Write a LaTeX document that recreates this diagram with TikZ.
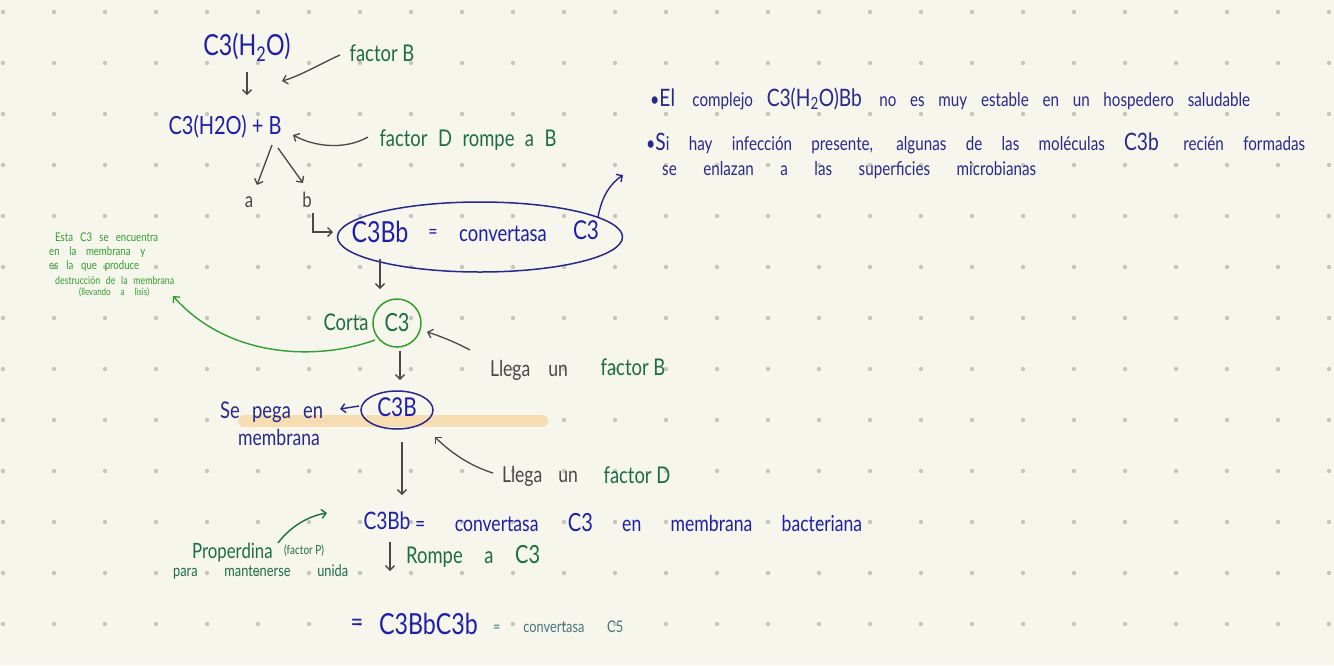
\documentclass[tikz,border=0pt]{standalone}
\usepackage{fontspec}
\setmainfont{Lato}[FakeStretch=0.8]
\usetikzlibrary{arrows.meta,shapes.geometric}
\definecolor{bg}{RGB}{246,246,236}
\definecolor{dotc}{RGB}{198,198,190}
\definecolor{bl}{RGB}{30,30,170}
\definecolor{dbl}{RGB}{40,40,140}
\definecolor{gt}{RGB}{28,108,72}
\definecolor{gc}{RGB}{50,158,45}
\definecolor{gr}{RGB}{72,72,72}
\definecolor{peach}{RGB}{247,222,178}
\definecolor{tealc}{RGB}{70,118,122}
\newcommand\fsz[1]{\fontsize{#1}{#1}\selectfont}
\begin{document}
\begin{tikzpicture}[x=1pt,y=-1pt,
  tipb/.tip={Straight Barb[length=4.5pt,width=9pt]},
  arw/.style={draw=gr,line width=1.3pt,-tipb},
  barw/.style={draw=dbl,line width=1.4pt,-tipb},
  garw/.style={draw=gc,line width=1.4pt,-tipb},
  dgarw/.style={draw=gt,line width=1.4pt,-tipb},
  bt/.style={text=bl,inner sep=0pt},
  gtx/.style={text=gt,inner sep=0pt},
  grt/.style={text=gr,inner sep=0pt},
  small/.style={text=gc,inner sep=0pt,anchor=west,font=\fsz{12}}]
\fill[bg] (0,0) rectangle (1334,665);
\useasboundingbox (0,0) rectangle (1334,665);
\foreach \i in {0,...,26}{\foreach \j in {0,...,12}{\fill[dotc] (3+51*\i,12+51*\j) circle (2.2);}}

% top part
\node[bt,font=\fsz{29}] (h2o) at (247,47) {C3(H\textsubscript{2}O)};
\node[gtx,font=\fsz{23}] (fB) at (382,53) {factor B};
\node[bt,font=\fsz{25}] (c3hb) at (225,127) {C3(H2O) + B};
\node[gtx,font=\fsz{23}] (fD) at (468,140) {\makebox[177pt][s]{factor D rompe a B}};
\node[grt,font=\fsz{21}] (na) at (249,202) {a};
\node[grt,font=\fsz{21}] (nb) at (307,200) {b};

\coordinate (p1) at (247,72); \coordinate (p2) at (247,95);
\draw[arw] (p1) -- (p2);
\coordinate (fBs) at (340,55); \coordinate (fBe) at (282,81);
\draw[arw] (fBs) .. controls (320,64) and (300,76) .. (fBe);
\coordinate (fDs) at (368,137); \coordinate (fDe) at (293,135);
\draw[arw] (fDs) .. controls (345,150) and (315,147) .. (fDe);
\coordinate (ab1) at (272,145); \coordinate (ab2) at (278,148);
\draw[arw] (ab1) -- (257,185);
\draw[arw] (ab2) -- (303,183);

% ellipse
\node[draw=dbl,line width=1.5pt,ellipse,minimum width=285,minimum height=70] (ell) at (480,237) {};
\node[bt,font=\fsz{29}] (c3bb) at (380,232) {C3Bb};
\node[bt,font=\fsz{20}] (eq1) at (433,234) {=};
\node[bt,font=\fsz{23}] (conv) at (503,234) {convertasa};
\node[bt,font=\fsz{26}] (c3e) at (586,230) {C3};
\coordinate (hk) at (313,213);
\draw[arw] (hk) -- (313,232) -- (333,232);
\coordinate (bs) at (598,217); \coordinate (be) at (623,175);
\draw[barw] (bs) .. controls (602,196) and (610,184) .. (be);
\coordinate (d1) at (380,259);
\draw[arw] (d1) -- (380,289);

% small green note
\node[small] (n1) at (55,237) {\makebox[103pt][s]{Esta C3 se encuentra}};
\node[small] (n2) at (49,252) {\makebox[96pt][s]{en la membrana y}};
\node[small] (n3) at (49,266) {\makebox[90pt][s]{es la que produce}};
\node[small,font=\fsz{11}] (n4) at (55,280) {\makebox[119pt][s]{destrucción de la membrana}};
\node[small,font=\fsz{10}] (n5) at (79,292) {\makebox[70pt][s]{(llevando a lisis)}};

% circle C3
\node[draw=gc,line width=1.5pt,circle,minimum size=48,text=gt,font=\fsz{25},inner sep=0pt] (cc) at (397,323) {C3};
\node[gtx,font=\fsz{23}] (corta) at (346,322) {Corta};
\coordinate (gs) at (375,340); \coordinate (ge) at (173,296);
\draw[garw] (gs) .. controls (320,360) and (230,360) .. (ge);
\draw[arw] (cc.south) ++(3,3) -- (400,380);

\node[grt,font=\fsz{22}] (llB) at (529,370) {\makebox[78pt][s]{Llega un}};
\node[gtx,font=\fsz{23}] (fB2) at (633,367) {factor B};
\coordinate (lBs) at (470,350); \coordinate (lBe) at (427,332);
\draw[arw] (lBs) .. controls (455,342) and (440,336) .. (lBe);

% membrane
\coordinate (m1) at (244,421); \coordinate (m2) at (542,421);
\draw[peach,line width=12pt,line cap=round] (m1) -- (m2);
\node[draw=dbl,line width=1.5pt,ellipse,minimum width=72,minimum height=38,inner sep=0pt] (c3bn) at (397,410) {};
\node[bt,font=\fsz{26}] (c3bt) at (397,407) {C3B};
\node[text=dbl,inner sep=0pt,font=\fsz{23},anchor=west] (sp) at (220,412) {\makebox[103pt][s]{Se pega en}};
\node[text=dbl,inner sep=0pt,font=\fsz{22},anchor=west] (memb) at (238,437) {membrana};
\coordinate (sps) at (359,406);
\draw[barw] (sps) -- (340,409);
\coordinate (d3) at (402,442);
\draw[arw] (d3) -- (402,495);

\node[grt,font=\fsz{22}] (llD) at (540,476) {\makebox[76pt][s]{Llega un}};
\node[gtx,font=\fsz{23}] (fD2) at (637,475) {factor D};
\coordinate (lDs) at (493,473); \coordinate (lDe) at (435,437);
\draw[arw] (lDs) .. controls (470,466) and (450,452) .. (lDe);

% bottom
\node[bt,font=\fsz{24}] (c3bb2) at (387,521) {C3Bb};
\node[bt,font=\fsz{22},anchor=west] (convline) at (415,523) {\makebox[447pt][s]{= convertasa \fsz{25}C3\fsz{22} en membrana bacteriana}};
\node[gtx,font=\fsz{21},anchor=west] (prop) at (192,553) {Properdina};
\node[gtx,font=\fsz{12.5},anchor=west] (facP) at (284,551) {(factor P)};
\node[gtx,font=\fsz{16},anchor=west] (para) at (173,572) {\makebox[175pt][s]{para mantenerse unida}};
\coordinate (ps) at (278,543); \coordinate (pe) at (327,513);
\draw[dgarw] (ps) .. controls (290,527) and (308,516) .. (pe);
\coordinate (rs) at (390,542);
\draw[arw] (rs) -- (390,571);
\node[gtx,font=\fsz{23},anchor=west] (rompe) at (406,556) {\makebox[134pt][s]{Rompe a \fsz{25}C3}};

\node[bt,font=\fsz{27}] (eq2) at (357,625) {=};
\node[bt,font=\fsz{29},anchor=west] (fin) at (379,624) {C3BbC3b};
\node[text=tealc,inner sep=0pt,font=\fsz{16},anchor=west] (c5) at (493,627) {\makebox[130pt][s]{= convertasa C5}};

% right notes
\node[text=dbl,inner sep=0pt,anchor=base west] (r1) at (650,106) {\makebox[600pt][s]{\fsz{20}\textbullet\fsz{24}El \fsz{19}complejo \fsz{24}C3(H\textsubscript{2}O)Bb \fsz{19}no es muy estable en un hospedero saludable}};
\node[text=dbl,inner sep=0pt,anchor=base west] (r2) at (646,150) {\makebox[659pt][s]{\fsz{20}\textbullet\fsz{24}S\fsz{19}i hay infección presente, algunas de las moléculas \fsz{24}C3b \fsz{19}recién formadas}};
\node[text=dbl,inner sep=0pt,anchor=base west,font=\fsz{19}] (r3) at (662,175) {\makebox[374pt][s]{se enlazan a las superficies microbianas}};
\end{tikzpicture}
\end{document}
